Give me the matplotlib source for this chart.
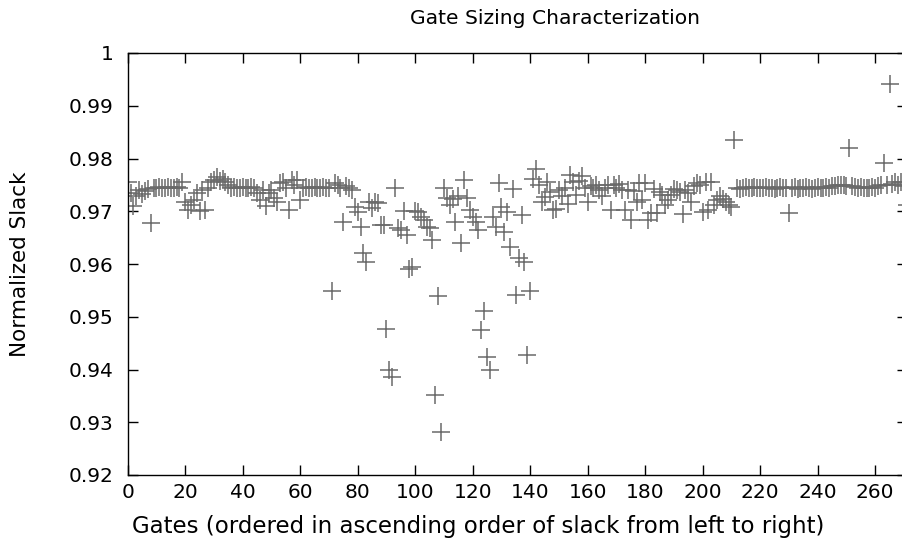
import matplotlib
matplotlib.use('Agg')
import matplotlib.pyplot as plt
import numpy as np

# normalized slack per gate, ordered by rank
slack = [
    0.9755, 0.9735, 0.9710, 0.9728, 0.9740, 0.9732, 0.9738, 0.9742, 0.9678, 0.9745,
    0.9745, 0.9746, 0.9745, 0.9745, 0.9746, 0.9745, 0.9745, 0.9746, 0.9745, 0.9756,
    0.9718, 0.9702, 0.9712, 0.9722, 0.9734, 0.9700, 0.9740, 0.9703, 0.9745, 0.9755,
    0.9760, 0.9765, 0.9758, 0.9762, 0.9755, 0.9750, 0.9745, 0.9746, 0.9745, 0.9745,
    0.9746, 0.9745, 0.9745, 0.9746, 0.9745, 0.9734, 0.9721, 0.9740, 0.9710, 0.9734,
    0.9740, 0.9725, 0.9718, 0.9753, 0.9756, 0.9745, 0.9702, 0.9759, 0.9750, 0.9759,
    0.9721, 0.9745, 0.9746, 0.9745, 0.9745, 0.9746, 0.9745, 0.9745, 0.9746, 0.9745,
    0.9745, 0.9548, 0.9753, 0.9750, 0.9745, 0.9680, 0.9748, 0.9745, 0.9740, 0.9709,
    0.9699, 0.9670, 0.9621, 0.9604, 0.9718, 0.9706, 0.9718, 0.9715, 0.9674, 0.9673,
    0.9477, 0.9399, 0.9385, 0.9745, 0.9668, 0.9665, 0.9700, 0.9655, 0.9590, 0.9595,
    0.9700, 0.9699, 0.9690, 0.9683, 0.9671, 0.9668, 0.9645, 0.9352, 0.9540, 0.9282,
    0.9745, 0.9725, 0.9712, 0.9723, 0.9680, 0.9728, 0.9639, 0.9759, 0.9725, 0.9702,
    0.9689, 0.9680, 0.9664, 0.9475, 0.9510, 0.9424, 0.9399, 0.9690, 0.9671, 0.9753,
    0.9709, 0.9661, 0.9699, 0.9633, 0.9742, 0.9541, 0.9611, 0.9693, 0.9604, 0.9427,
    0.9548, 0.9762, 0.9781, 0.9750, 0.9718, 0.9727, 0.9756, 0.9737, 0.9702, 0.9705,
    0.9740, 0.9728, 0.9745, 0.9714, 0.9769, 0.9756, 0.9731, 0.9758, 0.9766, 0.9745,
    0.9718, 0.9747, 0.9745, 0.9750, 0.9740, 0.9728, 0.9745, 0.9750, 0.9702, 0.9750,
    0.9745, 0.9752, 0.9740, 0.9702, 0.9740, 0.9683, 0.9738, 0.9718, 0.9753, 0.9721,
    0.9753, 0.9683, 0.9696, 0.9743, 0.9696, 0.9737, 0.9731, 0.9712, 0.9721, 0.9731,
    0.9743, 0.9740, 0.9737, 0.9695, 0.9740, 0.9734, 0.9718, 0.9748, 0.9753, 0.9750,
    0.9699, 0.9755, 0.9702, 0.9755, 0.9712, 0.9721, 0.9728, 0.9724, 0.9718, 0.9712,
    0.9709, 0.9835, 0.9745, 0.9742, 0.9745, 0.9746, 0.9745, 0.9744, 0.9746, 0.9745,
    0.9744, 0.9745, 0.9746, 0.9744, 0.9745, 0.9743, 0.9745, 0.9746, 0.9744, 0.9745,
    0.9696, 0.9744, 0.9746, 0.9743, 0.9745, 0.9744, 0.9746, 0.9745, 0.9743, 0.9745,
    0.9746, 0.9745, 0.9744, 0.9746, 0.9745, 0.9747, 0.9748, 0.9749, 0.9750, 0.9749,
    0.9748, 0.9819, 0.9747, 0.9746, 0.9745, 0.9746, 0.9745, 0.9744, 0.9745, 0.9746,
    0.9745, 0.9747, 0.9749, 0.9791, 0.9750, 0.9941, 0.9752, 0.9755, 0.9750, 0.9756,
    0.9748, 0.9712,
]
gates = np.arange(len(slack))

x_ticks = [0, 20, 40, 60, 80, 100, 120, 140, 160, 180, 200, 220, 240, 260]
y_ticks = [0.92, 0.93, 0.94, 0.95, 0.96, 0.97, 0.98, 0.99, 1.0]
y_tick_labels = ['0.92', '0.93', '0.94', '0.95', '0.96', '0.97', '0.98', '0.99', '1']

plt.rcParams['font.family'] = 'DejaVu Sans'
plt.rcParams['font.size'] = 14.5

W, H = 902, 554
fig = plt.figure(figsize=(W / 100, H / 100), dpi=100)
# right border falls just outside the image, like the reference
left, right, top, bottom = 127.7, 906.8, 53, 475
ax = fig.add_axes([left / W, (H - bottom) / H, (right - left) / W, (bottom - top) / H])

ax.plot(gates, slack, linestyle='none', marker='+', markersize=13,
        markeredgewidth=1.1, color='#6a6a6a')

ax.set_xlim(0, len(slack) - 1)
ax.set_ylim(0.92, 1.0)
ax.set_xticks(x_ticks)
ax.set_yticks(y_ticks)
ax.set_yticklabels(y_tick_labels)
ax.tick_params(direction='in', length=7, width=1, top=True, right=True)
ax.tick_params(axis='x', pad=6)
ax.tick_params(axis='y', pad=10)

for s in ax.spines.values():
    s.set_linewidth(1)

fig.text(555 / W, 1 - 18 / H, 'Gate Sizing Characterization', fontsize=14.6,
         ha='center', va='center')
fig.text(478 / W, 1 - 527 / H,
         'Gates (ordered in ascending order of slack from left to right)',
         fontsize=16.5, ha='center', va='center')
fig.text(20 / W, 1 - 264 / H, 'Normalized Slack', fontsize=15.5,
         rotation=90, ha='center', va='center')

fig.savefig('out.png', dpi=100)
